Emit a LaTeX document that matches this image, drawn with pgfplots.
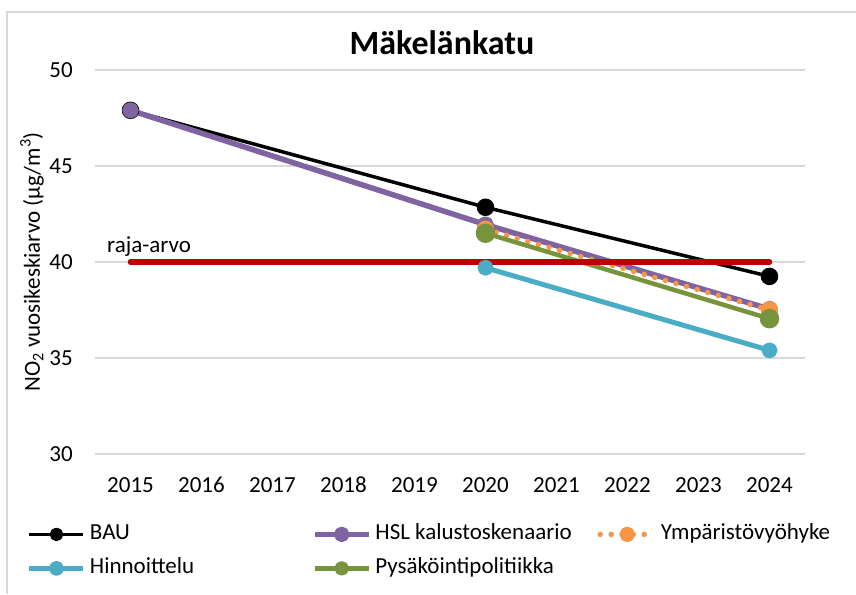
\documentclass[border=0pt]{standalone}
\usepackage{fontspec}
\setmainfont{Carlito}
\usepackage{pgfplots}
\pgfplotsset{compat=1.18}
\definecolor{gridc}{HTML}{D9D9D9}
\definecolor{cpurple}{HTML}{8064A2}
\definecolor{corange}{HTML}{F79646}
\definecolor{cblue}{HTML}{4BACC6}
\definecolor{cgreen}{HTML}{77933C}
\definecolor{cred}{HTML}{C00000}
\begin{document}
\begin{tikzpicture}[x=1pt,y=1pt]
\useasboundingbox (0,0) rectangle (856,594);
\draw[gridc, line width=1.2pt] (7,0) -- (7,582) -- (856,582);
\begin{axis}[
  at={(95pt,140pt)}, anchor=south west,
  scale only axis, width=710pt, height=384pt,
  xmin=2014.5, xmax=2024.5, ymin=30, ymax=50,
  xtick={2015,...,2024}, ytick={30,35,...,50},
  ymajorgrids, major grid style={gridc, line width=1.2pt},
  axis line style={draw=none}, tick style={draw=none},
  /pgf/number format/assume math mode=true,
  /pgf/number format/1000 sep={},
  tick label style={font=\fontsize{23}{27}\selectfont, inner sep=0pt},
  yticklabel style={anchor=east, xshift=-22pt},
  xticklabel style={anchor=north, yshift=-23pt},
  clip=false,
  line join=round,
  legend columns=3,
  legend cell align=left,
  legend image code/.code={\draw[mark repeat=2,mark phase=2,#1,mark size=5pt] plot coordinates {(0pt,0pt) (27pt,0pt) (54pt,0pt)};},
  legend style={at={(axis description cs:-0.0958,-0.182)}, anchor=north west,
    draw=none, fill=none, inner sep=0pt, outer sep=0pt,
    font=\fontsize{23}{27}\selectfont,
    nodes={inner xsep=4pt, inner ysep=0pt, text height=16pt, text depth=5pt},
    row sep=13pt},
]
\addplot[black, line width=3.5pt, mark=*, mark size=7pt, mark options={solid, fill=black}]
  coordinates {(2015,47.9) (2020,42.85) (2024,39.25)};
\addlegendentry{\makebox[218pt][l]{BAU}}
\addplot[cpurple, line width=5.5pt, mark=*, mark size=5.5pt, mark options={solid, fill=cpurple}]
  coordinates {(2015,47.9) (2020,41.95) (2024,37.55)};
\addlegendentry{\makebox[218pt][l]{HSL kalustoskenaario}}
\addplot[corange, line width=5.5pt, line cap=round, dash pattern=on 0pt off 11pt, mark=*, mark size=6pt, mark options={solid, fill=corange}]
  coordinates {(2020,41.7) (2024,37.5)};
\addlegendentry{Ympäristövyöhyke}
\addplot[cblue, line width=5pt, mark=*, mark size=5.5pt, mark options={solid, fill=cblue}]
  coordinates {(2020,39.7) (2024,35.4)};
\addlegendentry{\makebox[218pt][l]{Hinnoittelu}}
\addplot[cgreen, line width=4.5pt, mark=*, mark size=7.5pt, mark options={solid, fill=cgreen}]
  coordinates {(2020,41.5) (2024,37.05)};
\addlegendentry{\makebox[218pt][l]{Pysäköintipolitiikka}}
\addplot[cred, line width=5.5pt, line cap=round, forget plot]
  coordinates {(2015,40) (2024,40)};
\end{axis}
\node[font=\fontsize{34}{40}\selectfont\bfseries, anchor=base] at (442,539) {Mäkelänkatu};
\node[font=\fontsize{23}{27}\selectfont, rotate=90] at (32,332) {NO\textsubscript{2} vuosikeskiarvo (µg/m\textsuperscript{3})};
\node[font=\fontsize{23}{27}\selectfont, anchor=base west, inner sep=0pt] at (107,341) {raja-arvo};
\end{tikzpicture}
\end{document}
